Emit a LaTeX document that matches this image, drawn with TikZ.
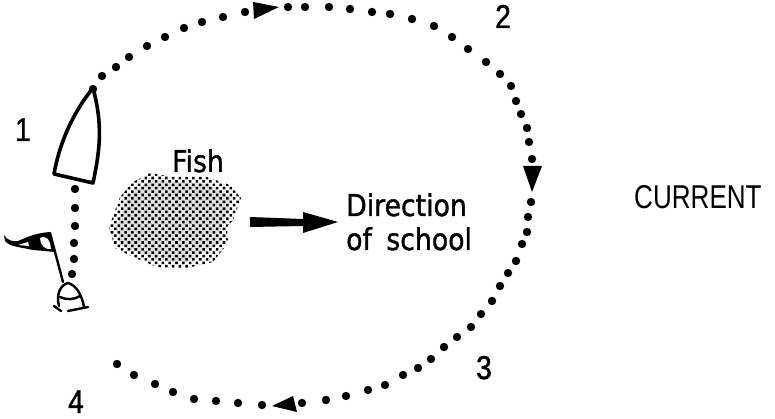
\documentclass[tikz,border=0pt]{standalone}
\usepackage{fontspec}
\setmainfont[FakeStretch=0.89,WordSpace=1.7,FakeBold=1.2]{DejaVu Sans}
\newfontfamily\numberfont[FakeStretch=0.85,FakeBold=1.2]{Liberation Sans}
\newfontfamily\currentfont[FakeStretch=0.79]{Liberation Sans}
\usetikzlibrary{patterns.meta}

\begin{document}
\begin{tikzpicture}[
		x=1pt,y=-1pt,
		spot/.style={fill=black},
		head/.style={fill=black},
		hull/.style={draw=black,line width=3.6pt,fill=white,line join=round},
		buoyline/.style={draw=black,line width=2.4pt,line cap=round},
		shoal/.style={pattern={Dots[distance=4.8pt,radius=1.8pt,angle=45]},pattern color=black},
		label style/.style={font=\fontsize{30}{30}\selectfont,inner sep=0pt,anchor=base west},
		number/.style={font=\numberfont\fontsize{33}{33}\selectfont,inner sep=0pt,anchor=base}
		]
		\useasboundingbox (0,0) rectangle (775,419);
		
		% Course of the boat
		\foreach \px/\py in {93/89,102/76,116/67,129/57,147/46,165/37,184/28,202/22,223/17,245/12,
			288/7,305/7,329/7,350/9,372/12,390/14,412/19,434/26,452/37,468/49,486/62,500/74,511/86,
			516/101,521/114,527/128,529/142,532/159,531/202,528/217,527/232,522/244,516/261,508/273,
			500/286,492/301,481/314,471/327,457/337,444/347,431/359,418/368,403/375,385/385,368/390,
			346/396,326/400,302/403,262/405,238/403,216/401,194/399,173/392,155/384,134/375,117/364,
			75/189,75/208,75/226,74/243,74/259,72/274}
			\fill[spot] (\px,\py) circle (4.2);
		
		% Arrow heads on the course
		\fill[head] (279,7) -- (253,2) -- (254,19) -- cycle;
		\fill[head] (532,192) -- (523,166) -- (542,166) -- cycle;
		\fill[head] (272,406) -- (293,396) -- (297,412) -- cycle;
		
		% Boat
		\draw[hull] (93,88) .. controls (103,125) and (100,150) .. (93,183) -- (54,174)
			.. controls (60,140) and (75,110) .. (93,88) -- cycle;
		
		% Buoy with flag
		\draw[buoyline] (50,233) -- (63,282);
		\fill (50,232) .. controls (35,233) and (25,238) .. (18,241)
			.. controls (12,242) and (7,240) .. (4,235) -- (5,241)
			.. controls (10,247) and (20,247) .. (33,250) -- (55,252) -- cycle;
		\fill[white] (40,238) .. controls (47,235) and (50,240) .. (51,249)
			.. controls (45,250) and (40,245) .. (40,238) -- cycle;
		\fill[white] (18,245) -- (28,242) -- (29,246) -- cycle;
		\draw[buoyline] (59,306) .. controls (56,295) and (60,285) .. (68,283)
			.. controls (76,285) and (82,295) .. (84,307);
		\draw[buoyline] (60,297) .. controls (66,300) and (74,300) .. (80,296);
		\draw[buoyline] (68,311) -- (88,307);
		\draw[buoyline] (54,306) -- (61,311);
		
		% Fish school
		\fill[black!12]
			(150,180) -- (207,184) -- (232,198) -- (222,225) -- (220,243) -- (187,262) -- (157,260)
			-- (120,245) -- (116,227) -- (127,197) -- cycle;
		\fill[shoal]
			(150,173) -- (173,177) -- (207,177) -- (230,185) -- (241,198) -- (233,220) -- (227,227)
			-- (228,243) -- (213,262) -- (187,268) -- (157,267) -- (133,257) -- (115,248)
			-- (109,227) -- (120,197) -- (133,182) -- cycle;
		
		% Direction arrow
		\fill[head] (250,217) -- (303,219) -- (303,212) -- (338,222) -- (303,233) -- (303,226) -- (250,227) -- cycle;
		
		% Labels
		\node[label style] (fish) at (172,172) {Fish};
		\node[label style] (direction) at (346,216) {Direction};
		\node[label style] (school) at (346,250) {of school};
		\node[inner sep=0pt,anchor=base west,font=\currentfont\fontsize{33}{33}\selectfont] (current) at (634,209) {CURRENT};
		\node[number] (one) at (23,141) {1};
		\node[number] (two) at (503,28) {2};
		\node[number] (three) at (484,379) {3};
		\node[number] (four) at (76,413) {4};
		
	\end{tikzpicture}
\end{document}
